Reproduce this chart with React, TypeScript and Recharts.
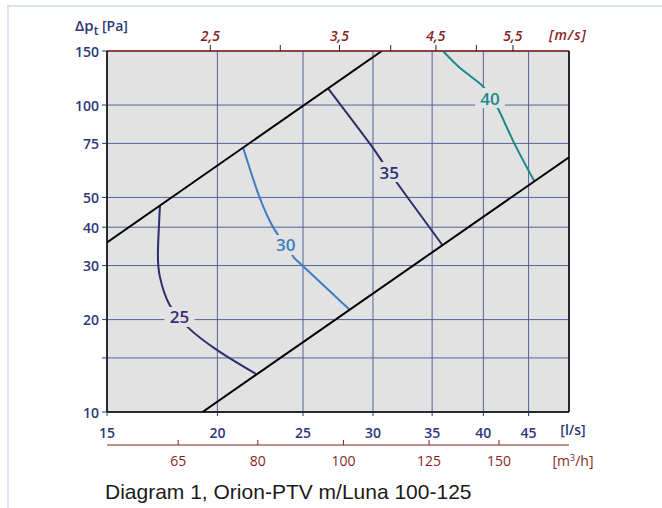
import { ComposedChart, Line, Scatter, XAxis, YAxis, CartesianGrid } from "recharts";

const NAVY = "#2D3778";
const RED = "#8A1F1F";
const GRID = "#58629A";
const PLOT_BG = "#E2E2E2";
const FONT = "'Open Sans', sans-serif";

// axis ticks
const flowTicks = [15, 20, 25, 30, 35, 40, 45]; // l/s
const pressureTicks = [10, 15, 20, 30, 40, 50, 75, 100, 150]; // Pa
const pressureLabels = [10, 20, 30, 40, 50, 75, 100, 150];
const velocityTicks = [2.5, 3, 3.5, 4, 4.5, 5, 5.5]; // m/s
const airflowTicks = [65, 80, 100, 125, 150]; // m3/h

// working range limits
const upperLimit = [
  { q: 15, p: 35.7 },
  { q: 30.7, p: 150 },
];
const lowerLimit = [
  { q: 19.24, p: 10 },
  { q: 50, p: 67.6 },
];

// sound level curves, dB(A)
const curve25 = [
  { q: 17.22, p: 47.0 },
  { q: 17.13, p: 33.7 },
  { q: 17.22, p: 27.5 },
  { q: 17.66, p: 22.3 },
  { q: 18.12, p: 20.4 },
  { q: 18.51, p: 18.9 },
  { q: 19.99, p: 15.9 },
  { q: 22.12, p: 13.3 },
];
const curve30 = [
  { q: 21.39, p: 72.6 },
  { q: 22.32, p: 50.1 },
  { q: 23.22, p: 39.2 },
  { q: 23.9, p: 35.0 },
  { q: 24.35, p: 32.2 },
  { q: 24.99, p: 29.9 },
  { q: 28.25, p: 21.5 },
];
const curve35 = [
  { q: 26.7, p: 113.2 },
  { q: 29.94, p: 73.1 },
  { q: 31.3, p: 60.5 },
  { q: 35.97, p: 34.9 },
];
const curve40 = [
  { q: 36.0, p: 150 },
  { q: 37.88, p: 130 },
  { q: 39.93, p: 115.3 },
  { q: 40.7, p: 105.4 },
  { q: 41.53, p: 97.6 },
  { q: 43.18, p: 76.9 },
  { q: 45.7, p: 56.4 },
];

const curveLabels = [
  { q: 18.12, p: 20.4, text: "25" },
  { q: 23.9, p: 35.0, text: "30" },
  { q: 31.3, p: 60.5, text: "35" },
  { q: 40.7, p: 105.4, text: "40" },
];

// secondary scales only carry their tick values
const airflowPoints = airflowTicks.map((m) => ({ m, p: 10 }));
const velocityPoints = velocityTicks.map((v) => ({ v, p: 150 }));

const CURVE_COLORS: Record<string, string> = {
  "25": "#2B2E6A",
  "30": "#3C7DC4",
  "35": "#2A2F6C",
  "40": "#17898A",
};
const LABEL_COLORS: Record<string, string> = {
  "25": "#3B2A78",
  "30": "#3C7DC4",
  "35": "#2B3373",
  "40": "#17898A",
};

const LeftTick = ({ x, y, payload }: any) =>
  pressureLabels.includes(payload.value) ? (
    <text x={x - 3} y={y} textAnchor="end" dominantBaseline="central" fill={NAVY} fontSize={14} fontWeight={600} fontFamily={FONT}>
      {payload.value}
    </text>
  ) : (
    <g />
  );

const FlowTick = ({ x, y, payload }: any) => (
  <text x={x} y={y + 16} textAnchor="middle" dominantBaseline="central" fill={NAVY} fontSize={14} fontWeight={600} fontFamily={FONT}>
    {payload.value}
  </text>
);

const VelocityTick = ({ x, y, payload }: any) =>
  Math.round(payload.value * 10) % 10 === 5 ? (
    <text x={x} y={y - 10} textAnchor="middle" dominantBaseline="central" fill={RED} fontSize={14} fontStyle="italic" fontWeight={600} fontFamily={FONT}>
      {String(payload.value).replace(".", ",")}
    </text>
  ) : (
    <g />
  );

const AirflowTick = ({ x, y, payload }: any) => (
  <g>
    <line x1={x} x2={x} y1={y - 5} y2={y} stroke={RED} strokeWidth={1} />
    <text x={x} y={y + 15} textAnchor="middle" dominantBaseline="central" fill={RED} fontSize={14} fontWeight={500} fontFamily={FONT}>
      {payload.value}
    </text>
  </g>
);

const CurveLabel = (props: any) => {
  const { cx, cy, payload } = props;
  return (
    <g>
      <rect x={cx - 15} y={cy - 10} width={30} height={20} fill={PLOT_BG} />
      <text x={cx} y={cy} textAnchor="middle" dominantBaseline="central" fill={LABEL_COLORS[payload.text]} fontSize={17} fontWeight={600} fontFamily={FONT}>
        {payload.text}
      </text>
    </g>
  );
};

const Nothing = () => <g />;

const overlay = (left: number, top: number, style: React.CSSProperties, content: React.ReactNode, center = true) => (
  <div
    style={{
      position: "absolute",
      left,
      top,
      transform: center ? "translate(-50%, -50%)" : "translateY(-50%)",
      whiteSpace: "nowrap",
      fontFamily: FONT,
      lineHeight: 1,
      ...style,
    }}
  >
    {content}
  </div>
);

export default function App() {
  const series = [
    { data: curve25, color: CURVE_COLORS["25"], key: "c25" },
    { data: curve30, color: CURVE_COLORS["30"], key: "c30" },
    { data: curve35, color: CURVE_COLORS["35"], key: "c35" },
    { data: curve40, color: CURVE_COLORS["40"], key: "c40" },
  ];
  return (
    <div style={{ position: "absolute", left: 0, top: 0, width: 662, height: 508, background: "#fff" }}>
      {/* light frame */}
      <div style={{ position: "absolute", left: 7, top: 5, right: 0, bottom: 0, borderLeft: "2px solid #DCE2F3", borderTop: "2px solid #DCE2F3" }} />
      <ComposedChart width={662} height={508} margin={{ top: 0, left: 0, right: 92, bottom: 33 }} style={{ position: "absolute", left: 0, top: 0 }}>
        <CartesianGrid xAxisId="ls" yAxisId="p" fill={PLOT_BG} stroke={GRID} strokeWidth={1} />
        <XAxis
          xAxisId="ls"
          dataKey="q"
          type="number"
          scale="log"
          domain={[15, 50]}
          allowDataOverflow
          ticks={flowTicks}
          height={33}
          tickSize={4}
          tickMargin={0}
          axisLine={{ stroke: "#000", strokeWidth: 1.5 }}
          tickLine={{ stroke: NAVY }}
          tick={FlowTick}
        />
        <XAxis
          xAxisId="m3h"
          dataKey="m"
          type="number"
          scale="log"
          domain={[54, 180]}
          allowDataOverflow
          ticks={airflowTicks}
          height={30}
          tickSize={0}
          tickMargin={0}
          axisLine={{ stroke: RED, strokeWidth: 1.2 }}
          tickLine={false}
          tick={AirflowTick}
        />
        <XAxis
          xAxisId="ms"
          dataKey="v"
          orientation="top"
          type="number"
          scale="log"
          domain={[1.91, 6.365]}
          allowDataOverflow
          ticks={velocityTicks}
          height={51}
          tickSize={6}
          tickMargin={0}
          axisLine={{ stroke: RED, strokeWidth: 1.5 }}
          tickLine={{ stroke: "#222" }}
          tick={VelocityTick}
        />
        <YAxis
          yAxisId="p"
          dataKey="p"
          type="number"
          scale="log"
          domain={[10, 150]}
          allowDataOverflow
          ticks={pressureTicks}
          width={107}
          tickSize={5}
          tickMargin={0}
          axisLine={{ stroke: "#000", strokeWidth: 1.5 }}
          tickLine={{ stroke: NAVY }}
          tick={LeftTick}
        />
        <YAxis
          yAxisId="r"
          dataKey="p"
          orientation="right"
          type="number"
          scale="log"
          domain={[10, 150]}
          allowDataOverflow
          width={1}
          tick={false}
          tickLine={false}
          axisLine={{ stroke: "#000", strokeWidth: 1.5 }}
        />
        {series.map((s) => (
          <Line
            key={s.key}
            xAxisId="ls"
            yAxisId="p"
            data={s.data}
            dataKey="p"
            type="natural"
            stroke={s.color}
            strokeWidth={2}
            dot={false}
            isAnimationActive={false}
          />
        ))}
        <Line xAxisId="ls" yAxisId="p" data={upperLimit} dataKey="p" type="linear" stroke="#000" strokeWidth={2} dot={false} isAnimationActive={false} />
        <Line xAxisId="ls" yAxisId="p" data={lowerLimit} dataKey="p" type="linear" stroke="#000" strokeWidth={2} dot={false} isAnimationActive={false} />
        <Scatter xAxisId="m3h" yAxisId="r" data={airflowPoints} dataKey="p" shape={Nothing} isAnimationActive={false} />
        <Scatter xAxisId="ms" yAxisId="r" data={velocityPoints} dataKey="p" shape={Nothing} isAnimationActive={false} />
        <Scatter xAxisId="ls" yAxisId="p" data={curveLabels} dataKey="p" shape={CurveLabel} isAnimationActive={false} />
      </ComposedChart>

      {overlay(75, 27, { color: NAVY, fontSize: 14, fontWeight: 600 }, (
        <span>
          <span style={{ fontSize: 15 }}>Δp</span>
          <sub style={{ fontSize: 12, verticalAlign: -4 }}>t</sub> [Pa]
        </span>
      ), false)}
      {overlay(568, 35, { color: RED, fontSize: 14, fontStyle: "italic", fontWeight: 600, letterSpacing: 1 }, "[m/s]")}
      {overlay(573, 430, { color: NAVY, fontSize: 14, fontWeight: 600 }, "[l/s]")}
      {overlay(573, 460, { color: RED, fontSize: 14, fontWeight: 500 }, (
        <span>
          [m<sup style={{ fontSize: 9, verticalAlign: 5 }}>3</sup>/h]
        </span>
      ))}
      {overlay(105, 491, { color: "#1A1A1A", fontSize: 21, fontFamily: "'Liberation Sans', Arial, sans-serif" }, "Diagram 1, Orion-PTV m/Luna 100-125", false)}
    </div>
  );
}
